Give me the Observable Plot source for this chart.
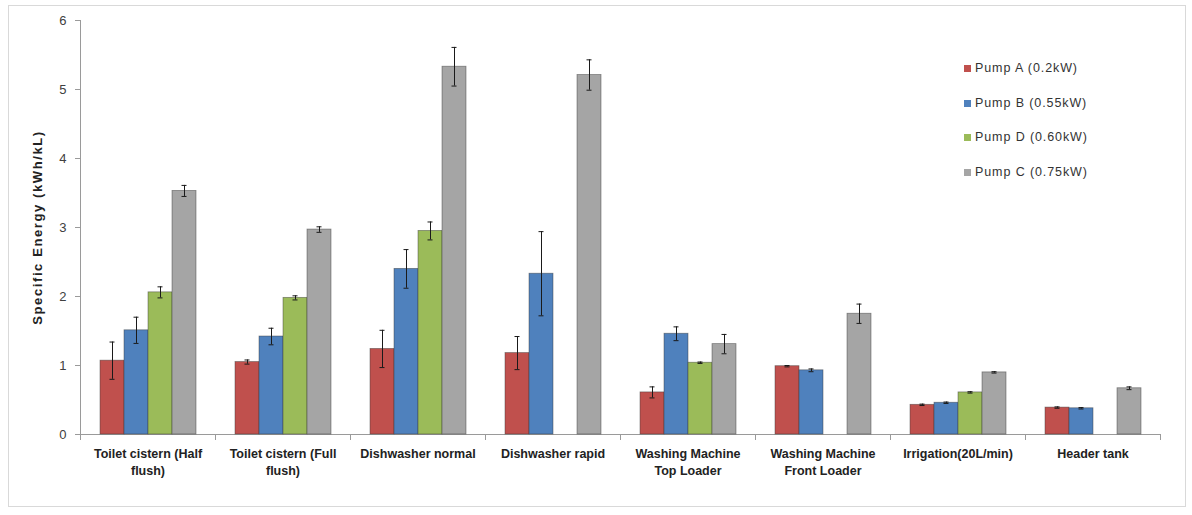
<!DOCTYPE html>
<html>
<head>
<meta charset="utf-8">
<script src="https://cdn.jsdelivr.net/npm/d3@7"></script>
<script src="https://cdn.jsdelivr.net/npm/@observablehq/plot@0.6"></script>
<style>
  html, body { margin: 0; padding: 0; background: #fff; }
  #wrap { position: relative; width: 1192px; height: 515px; overflow: hidden; font-family: "Liberation Sans", Arial, sans-serif; }
  #border { position: absolute; left: 8px; top: 5px; width: 1178px; height: 502px; border: 1px solid #d9d9d9; box-sizing: border-box; }
  #chart { position: absolute; left: 0; top: 0; }
  #chart svg [aria-label="y-axis tick label"] text { font-size: 13px; fill: #404040; }
  #chart svg [aria-label="y-axis label"] text { font-weight: bold; font-size: 13px; letter-spacing: 1.6px; fill: #222; }
  #legend { position: absolute; left: 964px; top: 61px; font-size: 12.5px; letter-spacing: 0.9px; color: #333; }
  #legend .row { height: 34.7px; display: flex; align-items: flex-start; }
  #legend .sw { width: 7px; height: 7px; margin-top: 4px; margin-right: 4px; }
</style>
</head>
<body>
<div id="wrap">
  <div id="border"></div>
  <div id="chart"></div>
  <div id="legend"></div>
</div>
<script>
const categories = ["Toilet cistern (Half flush)", "Toilet cistern (Full flush)", "Dishwasher normal", "Dishwasher rapid", "Washing Machine Top Loader", "Washing Machine Front Loader", "Irrigation(20L/min)", "Header tank"];
const categoryLabels = ["Toilet cistern (Half\nflush)", "Toilet cistern (Full\nflush)", "Dishwasher normal", "Dishwasher rapid", "Washing Machine\nTop Loader", "Washing Machine\nFront Loader", "Irrigation(20L/min)", "Header tank"];
const pumps = ["Pump A (0.2kW)", "Pump B (0.55kW)", "Pump D (0.60kW)", "Pump C (0.75kW)"];
const pumpColors = ["#C0504D", "#4F81BD", "#9BBB59", "#A5A5A5"];
const pumpA    = [1.07, 1.05, 1.24, 1.18, 0.61, 0.99, 0.43, 0.39];
const pumpAErr = [0.27, 0.03, 0.27, 0.24, 0.08, 0.01, 0.01, 0.01];
const pumpB    = [1.51, 1.42, 2.40, 2.33, 1.46, 0.93, 0.46, 0.38];
const pumpBErr = [0.19, 0.12, 0.28, 0.61, 0.10, 0.02, 0.01, 0.01];
const pumpD    = [2.06, 1.98, 2.95, null, 1.04, null, 0.61, null];
const pumpDErr = [0.08, 0.03, 0.13, null, 0.01, null, 0.01, null];
const pumpC    = [3.53, 2.97, 5.33, 5.21, 1.31, 1.75, 0.90, 0.67];
const pumpCErr = [0.08, 0.04, 0.28, 0.22, 0.14, 0.14, 0.01, 0.02];
const yTicks = [0, 1, 2, 3, 4, 5, 6];

const seriesVals = [pumpA, pumpB, pumpD, pumpC];
const seriesErr = [pumpAErr, pumpBErr, pumpDErr, pumpCErr];
const rows = [];
categories.forEach((c, i) => {
  pumps.forEach((p, j) => {
    const v = seriesVals[j][i];
    if (v != null) rows.push({category: c, pump: p, value: v, err: seriesErr[j][i]});
  });
});
const labelOf = new Map(categories.map((c, i) => [c, categoryLabels[i]]));

const H = 515, MT = 20, MB = 81;
const plotH = H - MT - MB;

const chart = Plot.plot({
  width: 1192,
  height: H,
  marginTop: MT,
  marginBottom: MB,
  marginLeft: 77,
  marginRight: 29,
  style: {fontFamily: "'Liberation Sans', Arial, sans-serif", background: "transparent", color: "#9a9a9a"},
  fx: {domain: categories, padding: 0, axis: null},
  x: {domain: pumps, paddingInner: 0, paddingOuter: 0.715, axis: null},
  y: {domain: [0, 6], ticks: yTicks, tickFormat: d => String(d), tickSize: 5, tickPadding: 9, line: true,
      label: "Specific Energy (kWh/kL)", labelAnchor: "center", labelArrow: "none", labelOffset: 48},
  color: {domain: pumps, range: pumpColors},
  marks: [
    Plot.ruleY([0], {stroke: "#9a9a9a"}),
    Plot.frame({anchor: "left", insetTop: plotH, insetBottom: -5, stroke: "#9a9a9a"}),
    Plot.frame({anchor: "right", insetTop: plotH, insetBottom: -5, stroke: "#9a9a9a"}),
    Plot.barY(rows, {fx: "category", x: "pump", y: "value", fill: "pump", stroke: "#3a3a3a", strokeOpacity: 0.55, strokeWidth: 0.8}),
    Plot.ruleX(rows, {fx: "category", x: "pump", y1: d => d.value - d.err, y2: d => d.value + d.err, stroke: "#1a1a1a", strokeWidth: 1}),
    Plot.tickY(rows, {fx: "category", x: "pump", y: d => d.value + d.err, stroke: "#1a1a1a", strokeWidth: 1, insetLeft: 9.5, insetRight: 9.5}),
    Plot.tickY(rows, {fx: "category", x: "pump", y: d => d.value - d.err, stroke: "#1a1a1a", strokeWidth: 1, insetLeft: 9.5, insetRight: 9.5}),
    Plot.axisFx({anchor: "bottom", tickSize: 0, tickPadding: 11, fontSize: 12.5, fontWeight: "bold", fill: "#222", lineHeight: 1.36,
      tickFormat: d => labelOf.get(d), label: null})
  ]
});
document.getElementById("chart").appendChild(chart);

const legend = d3.select("#legend");
pumps.forEach((p, j) => {
  const r = legend.append("div").attr("class", "row");
  r.append("div").attr("class", "sw").style("background", pumpColors[j]);
  r.append("div").text(p);
});
</script>
</body>
</html>
